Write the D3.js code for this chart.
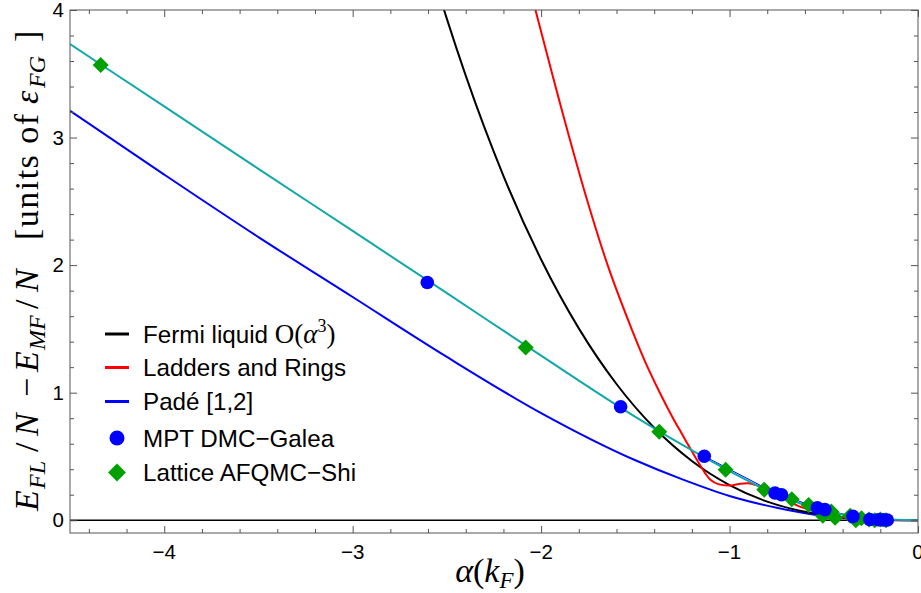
<!DOCTYPE html>
<html><head><meta charset="utf-8">
<script src="https://cdn.jsdelivr.net/npm/d3@7"></script>
<style>body{margin:0;background:#fff}</style>
</head><body>
<svg id="c" width="921" height="593" xmlns="http://www.w3.org/2000/svg"></svg>
<script>
// ---------- data ----------
const xTickValues = [-4, -3, -2, -1, 0];
const xTickLabels = ["\u22124", "\u22123", "\u22122", "\u22121", "0"];
const yTickValues = [0, 1, 2, 3, 4];
const yTickLabels = ["0", "1", "2", "3", "4"];
const seriesNames = ["Fermi liquid ", "Ladders and Rings", "Padé [1,2]", "MPT DMC\u2212Galea", "Lattice AFQMC\u2212Shi"];

// Fermi liquid O(alpha^3)
const fermiAlpha = [-2.6, -2.5, -2.4, -2.2, -2.0, -1.8, -1.6, -1.4, -1.2, -1.0, -0.8, -0.6, -0.4, -0.2, 0];
const fermiE     = [4.41, 3.93, 3.485, 2.70, 2.044, 1.504, 1.068, 0.725, 0.465, 0.276, 0.146, 0.066, 0.022, 0.0035, 0];

// Ladders and Rings
const ladderAlpha = [-2.08, -2.03, -1.9, -1.76, -1.64, -1.52, -1.45, -1.37, -1.30, -1.25, -1.20, -1.16, -1.13, -1.10, -1.06, -1.00, -0.95, -0.90, -0.86, -0.82, -0.76, -0.70, -0.64, -0.58, -0.50, -0.40, -0.30, -0.20, -0.10, 0];
const ladderE     = [4.28, 4.0, 3.27, 2.53, 1.97, 1.50, 1.25, 1.00, 0.80, 0.67, 0.54, 0.44, 0.37, 0.315, 0.283, 0.272, 0.285, 0.29, 0.275, 0.25, 0.21, 0.165, 0.115, 0.085, 0.052, 0.024, 0.009, 0.003, 0.0005, 0];

// Pade [1,2]
const padeAlpha = [-4.5, -4.0, -3.5, -3.0, -2.5, -2.0, -1.5, -1.25, -1.0, -0.75, -0.5, -0.25, 0];
const padeE     = [3.21, 2.71, 2.22, 1.75, 1.28, 0.84, 0.47, 0.32, 0.19, 0.098, 0.034, 0.006, 0];

// AFQMC fit line (cyan)
const fitAlpha = [-4.5, -4.0, -3.5, -3.0, -2.5, -2.0, -1.5, -1.25, -1.0, -0.8, -0.6, -0.4, -0.2, 0];
const fitE     = [3.733, 3.244, 2.755, 2.268, 1.78, 1.29, 0.81, 0.59, 0.385, 0.235, 0.12, 0.045, 0.01, 0];

// MPT DMC - Galea (blue circles)
const dmcAlpha = [-2.604, -1.578, -1.134, -0.759, -0.724, -0.534, -0.494, -0.345, -0.256, -0.211, -0.185, -0.163];
const dmcE     = [1.864, 0.89, 0.502, 0.214, 0.20, 0.097, 0.083, 0.03, 0.006, 0.004, 0.003, 0.002];

// Lattice AFQMC - Shi (green diamonds)
const afqmcAlpha = [-4.337, -2.082, -1.373, -1.021, -0.816, -0.67, -0.58, -0.505, -0.46, -0.44, -0.36, -0.33, -0.30, -0.26, -0.23, -0.20, -0.17];
const afqmcE     = [3.569, 1.354, 0.693, 0.395, 0.24, 0.165, 0.12, 0.035, 0.068, 0.02, 0.035, 0.0, 0.015, 0.005, 0.0, 0.005, 0.0];

// ---------- drawing ----------
const svg = d3.select("#c");
const L = 70, R = 918, T = 10, B = 533;
const x = d3.scaleLinear().domain([-4.5, 0]).range([L, R]);
const y = d3.scaleLinear().domain([-0.1, 4]).range([B, T]);
const frameColor = "#555";
const sans = "'Liberation Sans', Arial, sans-serif";
const serif = "'Liberation Serif', 'Times New Roman', serif";

svg.append("defs").append("clipPath").attr("id", "clip")
  .append("rect").attr("x", L).attr("y", T).attr("width", R - L).attr("height", B - T);

const plot = svg.append("g").attr("clip-path", "url(#clip)");

plot.append("line").attr("x1", L).attr("x2", R).attr("y1", y(0)).attr("y2", y(0))
  .attr("stroke", "#000").attr("stroke-width", 1.5);

const zip = (a, b) => a.map((v, i) => [v, b[i]]);
const line = d3.line().x(d => x(d[0])).y(d => y(d[1])).curve(d3.curveMonotoneX);
const smooth = d3.line().x(d => x(d[0])).y(d => y(d[1])).curve(d3.curveCatmullRom.alpha(0.5));

plot.append("path").attr("d", line(zip(padeAlpha, padeE))).attr("fill", "none").attr("stroke", "#0000ff").attr("stroke-width", 2);
plot.append("path").attr("d", line(zip(fermiAlpha, fermiE))).attr("fill", "none").attr("stroke", "#000").attr("stroke-width", 2);
plot.append("path").attr("d", smooth(zip(ladderAlpha, ladderE))).attr("fill", "none").attr("stroke", "#ff0000").attr("stroke-width", 2);
plot.append("path").attr("d", d3.line().x(d => x(d[0])).y(d => y(d[1]))(zip(dmcAlpha, dmcE).slice(2).concat([[0, 0]])))
  .attr("fill", "none").attr("stroke", "#0000ff").attr("stroke-width", 1);
plot.append("path").attr("d", line(zip(fitAlpha, fitE))).attr("fill", "none").attr("stroke", "#12a8a8").attr("stroke-width", 2);

const sq = d3.symbol().type(d3.symbolSquare).size(128);
plot.selectAll(".dia").data(zip(afqmcAlpha, afqmcE)).join("path")
  .attr("d", sq).attr("transform", d => `translate(${x(d[0])},${y(d[1])}) rotate(45)`)
  .attr("fill", "#00a000");
plot.selectAll(".dot").data(zip(dmcAlpha, dmcE)).join("circle")
  .attr("cx", d => x(d[0])).attr("cy", d => y(d[1])).attr("r", 6.8).attr("fill", "#0000ff");

// frame
svg.append("rect").attr("x", L).attr("y", T).attr("width", R - L).attr("height", B - T)
  .attr("fill", "none").attr("stroke", frameColor).attr("stroke-width", 1);

// ticks
const xMinor = d3.range(-4.4, 0.001, 0.2).filter(v => Math.abs(v - Math.round(v)) > 1e-6);
const yMinor = d3.range(0, 4.001, 0.2).filter(v => Math.abs(v - Math.round(v)) > 1e-6);
function ax(gen, tr, vals, size) {
  const g = svg.append("g").attr("transform", tr).call(gen.tickValues(vals).tickSize(size).tickFormat(""));
  g.select(".domain").remove();
  g.selectAll(".tick line").attr("stroke", frameColor);
}
ax(d3.axisBottom(x), `translate(0,${B})`, xTickValues, -7);
ax(d3.axisBottom(x), `translate(0,${B})`, xMinor, -4);
ax(d3.axisTop(x), `translate(0,${T})`, xTickValues, -7);
ax(d3.axisTop(x), `translate(0,${T})`, xMinor, -4);
ax(d3.axisLeft(y), `translate(${L},0)`, yTickValues, -7);
ax(d3.axisLeft(y), `translate(${L},0)`, yMinor, -4);
ax(d3.axisRight(y), `translate(${R},0)`, yTickValues, -7);
ax(d3.axisRight(y), `translate(${R},0)`, yMinor, -4);

// tick labels
svg.selectAll(".xl").data(xTickValues).join("text")
  .attr("x", d => x(d)).attr("y", 559).attr("text-anchor", "middle")
  .attr("font-family", sans).attr("font-size", 20.5).attr("fill", "#000")
  .text((d, i) => xTickLabels[i]);
svg.selectAll(".yl").data(yTickValues).join("text")
  .attr("x", 64).attr("y", d => y(d) + 7).attr("text-anchor", "end")
  .attr("font-family", sans).attr("font-size", 20.5).attr("fill", "#000")
  .text((d, i) => yTickLabels[i]);

// x axis title
const xt = svg.append("text").attr("x", 490).attr("y", 582).attr("text-anchor", "middle")
  .attr("font-family", serif).attr("font-size", 34).attr("fill", "#000");
xt.append("tspan").attr("font-style", "italic").text("\u03b1");
xt.append("tspan").text("(");
xt.append("tspan").attr("font-style", "italic").text("k");
xt.append("tspan").attr("font-style", "italic").attr("font-size", 23).attr("dy", 6).text("F");
xt.append("tspan").attr("dy", -6).text(")");

// y axis title (rotated): pieces placed along the axis (start position in page y)
const yg = svg.append("g").attr("transform", "translate(38,0) rotate(-90)");
function glyph(txt, yStart, opt) {
  const t = yg.append("text").attr("x", -yStart).attr("y", opt && opt.sub ? 7 : 0)
    .attr("font-family", serif).attr("font-size", opt && opt.sub ? 24 : 34).attr("fill", "#000").text(txt);
  if (opt && opt.i) t.attr("font-style", "italic");
  if (opt && opt.len) t.attr("textLength", opt.len).attr("lengthAdjust", "spacing");
}
glyph("E", 511, {i: 1});
glyph("FL", 489, {i: 1, sub: 1});
glyph("/", 452, {});
glyph("N", 436, {i: 1});
glyph("\u2212", 397, {});
glyph("E", 372, {i: 1});
glyph("MF", 350, {i: 1, sub: 1});
glyph("/", 309, {});
glyph("N", 292, {i: 1});
glyph("[units of", 240, {len: 126});
glyph("\u03b5", 104, {i: 1});
glyph("FG", 88, {i: 1, sub: 1});
glyph("]", 42, {});

// legend
const legY = [334, 367.5, 401.5, 438, 472.5];
const leg = svg.append("g");
["#000", "#ff0000", "#0000ff"].forEach((c, i) => {
  leg.append("line").attr("x1", 105).attr("x2", 129).attr("y1", legY[i]).attr("y2", legY[i])
    .attr("stroke", c).attr("stroke-width", 3);
});
leg.append("circle").attr("cx", 117).attr("cy", legY[3]).attr("r", 7.5).attr("fill", "#0000ff");
leg.append("path").attr("d", d3.symbol().type(d3.symbolSquare).size(160)())
  .attr("transform", `translate(117,${legY[4]}) rotate(45)`).attr("fill", "#00a000");
seriesNames.forEach((n, i) => {
  const t = leg.append("text").attr("x", 143).attr("y", legY[i] + 8.5)
    .attr("font-family", sans).attr("font-size", 24.2).attr("fill", "#000").text(n);
  if (i === 0) {
    t.append("tspan").attr("font-family", serif).attr("font-size", 27).text("O(");
    t.append("tspan").attr("font-family", serif).attr("font-size", 27).attr("font-style", "italic").text("\u03b1");
    t.append("tspan").attr("font-family", serif).attr("font-size", 18).attr("dy", -11).text("3");
    t.append("tspan").attr("font-family", serif).attr("font-size", 27).attr("dy", 11).text(")");
  }
});
</script>
</body></html>
